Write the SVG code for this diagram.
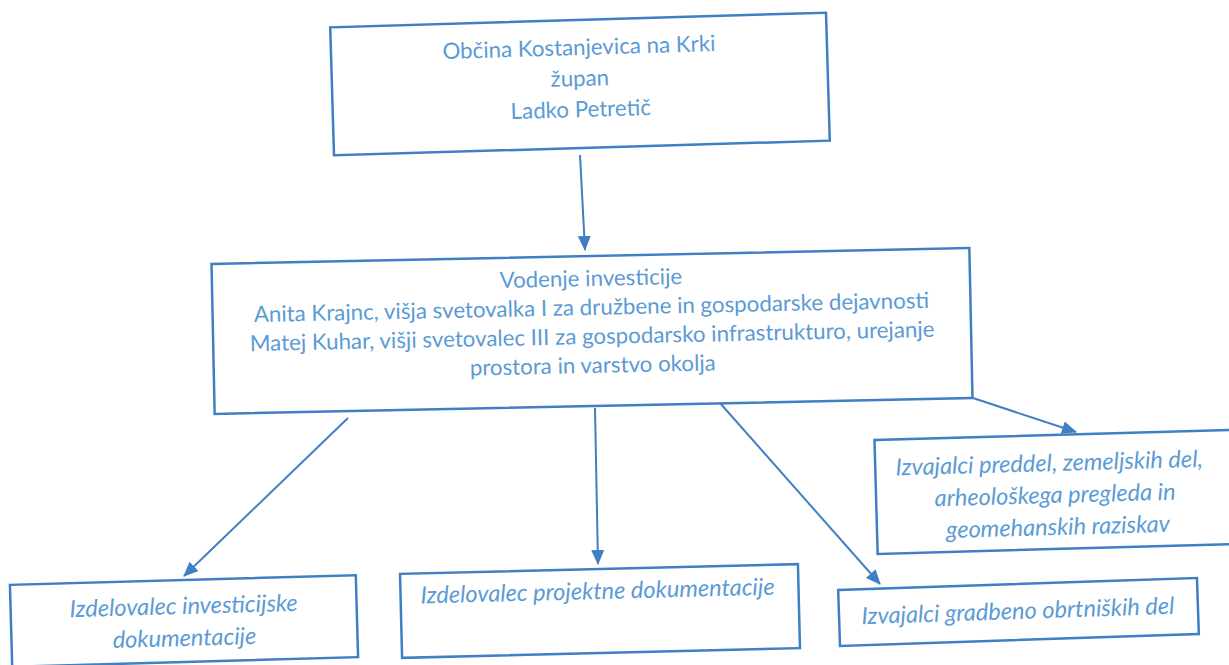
<svg xmlns="http://www.w3.org/2000/svg" width="1229" height="665" viewBox="0 0 1229 665">
<style>
.box{fill:#fff;stroke:#3f7fc4;stroke-width:2.5}
.t{font-family:Lato,"Liberation Sans",sans-serif;font-size:22.3px;fill:#5b9bd5;text-anchor:middle}
.i{font-style:italic;font-size:23.6px}
.c{stroke:#3f7fc4;stroke-width:2;fill:none;marker-end:url(#ah)}
</style>
<defs>
<marker id="ah" markerUnits="userSpaceOnUse" markerWidth="15" markerHeight="13" refX="14" refY="6.5" orient="auto">
<path d="M0,0 L15,6.5 L0,13 z" fill="#3f7fc4"/>
</marker>
</defs>
<rect width="1229" height="665" fill="#fff"/>
<g id="connectors">
<line class="c" x1="580" y1="155" x2="585" y2="250"/>
<line class="c" x1="348" y1="418" x2="184" y2="576"/>
<line class="c" x1="595" y1="408" x2="598" y2="564"/>
<line class="c" x1="720" y1="403" x2="880" y2="584"/>
<line class="c" x1="970" y1="397" x2="1076" y2="432"/>
</g>
<g id="n-obcina" transform="rotate(-1.7 580 84)">
<rect class="box" x="332" y="20" width="496" height="128"/>
<text class="t" x="580" y="55">Občina Kostanjevica na Krki</text>
<text class="t" x="580" y="86">župan</text>
<text class="t" x="580" y="117">Ladko Petretič</text>
</g>
<g id="n-vodenje" transform="rotate(-1.2 592 331)">
<rect class="box" x="213" y="256" width="758" height="150"/>
<text class="t" x="592" y="286">Vodenje investicije</text>
<text class="t" x="592" y="315">Anita Krajnc, višja svetovalka I za družbene in gospodarske dejavnosti</text>
<text class="t" x="592" y="344">Matej Kuhar, višji svetovalec III za gospodarsko infrastrukturo, urejanje</text>
<text class="t" x="592" y="373">prostora in varstvo okolja</text>
</g>
<g id="n-investicijske" transform="rotate(-1.6 184 621)">
<rect class="box" x="11" y="580" width="346" height="82"/>
<text class="t i" x="184" y="614">Izdelovalec investicijske</text>
<text class="t i" x="184" y="646">dokumentacije</text>
</g>
<g id="n-projektne" transform="rotate(-1.4 600 611)">
<rect class="box" x="401" y="569" width="398" height="84"/>
<text class="t i" x="598" y="599">Izdelovalec projektne dokumentacije</text>
</g>
<g id="n-gradbeno" transform="rotate(-1.9 1018 612)">
<rect class="box" x="839" y="584" width="359" height="56"/>
<text class="t i" x="1018" y="619">Izvajalci gradbeno obrtniških del</text>
</g>
<g id="n-preddel" transform="rotate(-1.6 1055 492)">
<rect class="box" x="876" y="435" width="358" height="114"/>
<text class="t i" x="1050" y="471">Izvajalci preddel, zemeljskih del,</text>
<text class="t i" x="1055" y="503">arheološkega pregleda in</text>
<text class="t i" x="1057" y="535">geomehanskih raziskav</text>
</g>
</svg>
